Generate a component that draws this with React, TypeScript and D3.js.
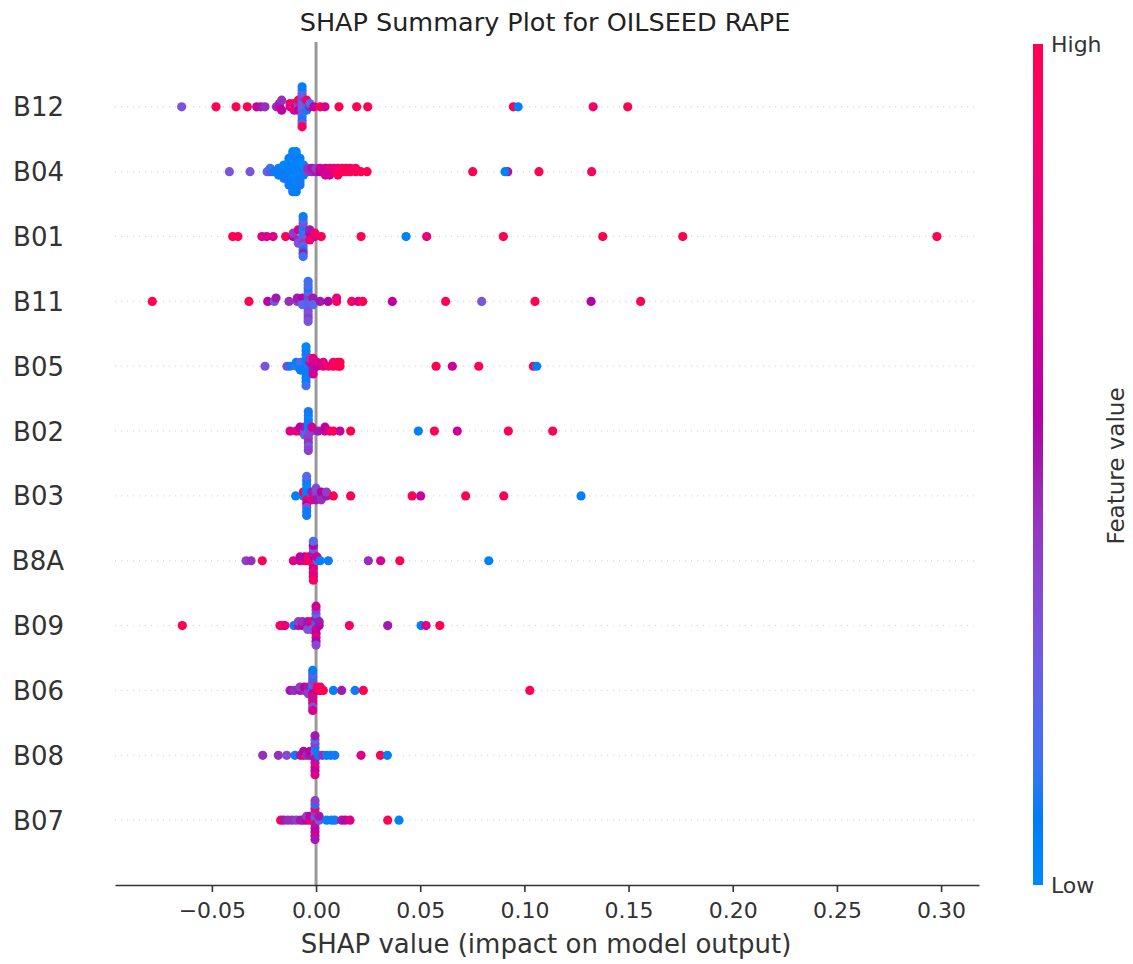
import * as d3 from "d3";
import { useEffect, useRef } from "react";

// feature order top -> bottom
const features = ["B12", "B04", "B01", "B11", "B05", "B02", "B03", "B8A", "B09", "B06", "B08", "B07"];

// each entry: [shap value, feature value of every point sitting at that shap value...]
const b12 = [
  [-0.0645, 0.3], [-0.048, 1], [-0.0384, 1], [-0.033, 1], [-0.0285, 0.65], [-0.0265, 0.5], [-0.0245, 0.45],
  [-0.019, 0.45], [-0.0175, 0.7, 0.5], [-0.0165, 0.6, 0.45], [-0.0125, 0.75, 0.85], [-0.0105, 0.3, 0.9, 0.8],
  [-0.0085, 0.25, 0.35, 0.6, 0.9],
  [-0.0067, 0.3, 0.3, 0.25, 0.2, 0.35, 0.4, 0.15, 0.3, 0.1, 0.2, 0.3, 0.05, 0.95],
  [-0.0045, 0.2, 0.35, 0.1, 0.9], [-0.003, 0.5, 0.2], [-0.001, 0.6], [0.002, 1], [0.0043, 0.7], [0.011, 1],
  [0.0195, 1], [0.0248, 1], [0.0947, 0.95], [0.097, 0.05], [0.133, 0.9], [0.1496, 1],
];
const b04 = [
  [-0.0416, 0.3], [-0.0317, 0.3], [-0.0235, 0.2], [-0.022, 0.35, 0.15], [-0.0205, 0.1], [-0.018, 0.05, 0.1, 0.05],
  [-0.0155, 0.05, 0.1, 0.05, 0, 0.1],
  [-0.013, 0.05, 0, 0.1, 0.05, 0.05, 0, 0.1, 0.05, 0.1],
  [-0.0112, 0, 0.05, 0.05, 0.1, 0, 0.05, 0.1, 0, 0.05, 0.1, 0.05, 0, 0.1],
  [-0.0095, 0.05, 0, 0.1, 0.05, 0, 0.05, 0.1, 0.05, 0, 0.1, 0.05, 0, 0.05],
  [-0.0077, 0.1, 0.05, 0, 0.1, 0.05, 0, 0.1, 0.05, 0.1],
  [-0.006, 0.05, 0.1, 0.05, 0], [-0.004, 0.4, 0.45], [-0.002, 0.45, 0.5], [0, 0.5, 0.4], [0.002, 0.55, 0.7],
  [0.0045, 0.7, 0.65, 0.75], [0.0065, 0.7, 0.8, 0.65], [0.0085, 0.75, 0.85], [0.0105, 0.9, 0.85, 1],
  [0.0125, 1, 0.9], [0.0145, 0.95, 1], [0.0165, 1, 0.9], [0.019, 1, 0.95], [0.0215, 1], [0.0245, 1],
  [0.0752, 1], [0.092, 0.7], [0.0907, 0.05], [0.107, 1], [0.1323, 0.95],
];
const b01 = [
  [-0.04, 1], [-0.0375, 1], [-0.026, 0.75], [-0.0237, 0.7], [-0.0206, 0.75], [-0.0146, 1], [-0.011, 0.6, 0.4],
  [-0.0085, 0.45, 0.7, 0.3],
  [-0.0062, 0.2, 0.1, 0.3, 0.15, 0.4, 0.05, 0.25, 0.35, 0.1, 0.2, 0.5, 0.1, 0.15],
  [-0.003, 0.3, 0.6, 0.9, 0.5], [-0.0005, 0.75, 0.9], [0.0025, 1], [0.0216, 1], [0.0432, 0.05], [0.0531, 0.8],
  [0.0899, 1], [0.1376, 1], [0.176, 1], [0.298, 1],
];
const b11 = [
  [-0.0786, 1], [-0.0322, 1], [-0.0232, 0.6], [-0.02, 0.25], [-0.0192, 0.5], [-0.013, 0.45], [-0.009, 0.4, 0.5],
  [-0.0065, 0.3, 0.55, 0.2],
  [-0.0038, 0.2, 0.1, 0.3, 0.4, 0.15, 0.25, 0.35, 0.1, 0.3, 0.2, 0.4, 0.15, 0.3],
  [-0.0015, 0.3, 0.5, 0.2], [0.002, 0.5], [0.0058, 0.55], [0.0099, 1, 0.8], [0.0171, 0.9], [0.0202, 0.75],
  [0.0224, 1], [0.0366, 0.6], [0.0622, 1], [0.0795, 0.3], [0.1051, 1], [0.132, 0.55], [0.1558, 1],
];
const b05 = [
  [-0.0245, 0.3], [-0.014, 0.35], [-0.0125, 0.1], [-0.0095, 0.15, 0.05], [-0.0075, 0.1, 0.2, 0.05],
  [-0.0048, 0.05, 0, 0.1, 0.05, 0.1, 0, 0.05, 0.1, 0.05, 0, 0.15],
  [-0.003, 0.3, 0.5, 0.1, 0.4], [-0.0014, 0.6, 0.75, 0.5, 0.8, 0.7], [0.0005, 0.6, 0.7], [0.0035, 0.75, 0.8],
  [0.006, 0.85], [0.0083, 1, 0.9], [0.0105, 1, 0.95], [0.0115, 1, 1], [0.0576, 1], [0.0654, 0.65],
  [0.0781, 1], [0.1043, 1], [0.1059, 0.05],
];
const b02 = [
  [-0.0125, 0.75], [-0.0095, 0.8], [-0.0077, 0.8, 0.6], [-0.0055, 0.3, 0.5, 0.2],
  [-0.0037, 0.2, 0.05, 0.35, 0.05, 0.4, 0.1, 0.45, 0, 0.3, 0.1, 0.4],
  [-0.002, 0.4, 0.7], [0.001, 0.5], [0.0043, 0.7, 0.6], [0.0065, 0.8], [0.0083, 1], [0.0115, 0.65],
  [0.0166, 1], [0.0491, 0.05], [0.0568, 1], [0.0678, 0.65], [0.0923, 1], [0.1136, 1],
];
const b03 = [
  [-0.0098, 0.05], [-0.0061, 0.05, 0.9],
  [-0.0045, 0.1, 0.05, 0.9, 0.05, 0.6, 0, 0.3, 0.1, 0.05, 0.2, 0.1],
  [-0.002, 0.3, 0.5, 0.85], [0, 0.45, 0.4, 0.5, 0.35], [0.0025, 0.4, 0.55, 0.45], [0.005, 0.5, 0.4],
  [0.0083, 1], [0.0166, 1], [0.0461, 1], [0.0502, 0.65], [0.0718, 1], [0.0901, 1], [0.1272, 0.05],
];
const b8a = [
  [-0.0336, 0.4], [-0.0312, 0.45], [-0.0258, 1], [-0.0109, 0.75], [-0.0077, 0.7, 0.6], [-0.0055, 0.8, 0.55],
  [-0.0037, 1, 0.9],
  [-0.0013, 0.8, 0.6, 0.9, 0.5, 0.7, 0.3, 0.85, 0.6, 0.75, 0.2, 0.95],
  [0.0005, 0.2, 0.7], [0.002, 0.05], [0.0059, 0.1], [0.0251, 0.45], [0.031, 0.7], [0.0402, 1], [0.0829, 0.05],
];
const b09 = [
  [-0.0642, 1], [-0.0173, 0.95], [-0.016, 0.9], [-0.0149, 0.8], [-0.0106, 0.1], [-0.0085, 0.5, 0.4],
  [-0.0065, 0.6, 0.45], [-0.004, 0.7, 0.5, 0.3], [-0.002, 0.6, 0.8, 0.3],
  [0, 0.3, 0.1, 0.7, 0.5, 0.6, 0.2, 0.8, 0.4, 0.55, 0.7, 0.35],
  [0.0015, 0.6, 0.5], [0.016, 0.9], [0.0344, 0.5], [0.0504, 0.05], [0.0528, 0.75], [0.0594, 1],
];
const b06 = [
  [-0.0125, 0.5], [-0.0105, 0.45], [-0.0077, 0.5, 0.4], [-0.0055, 0.45, 0.6], [-0.0037, 0.35, 0.5, 0.4],
  [-0.0016, 0.2, 0.1, 0.6, 0.3, 0.9, 0.4, 0.5, 0.1, 0.8, 0.3, 0.3, 0.05, 0.7],
  [0.0005, 0.6, 0.9], [0.002, 1, 0.9], [0.0035, 1], [0.0083, 0.05], [0.0123, 0.5], [0.0187, 0.1],
  [0.0227, 1], [0.1026, 1],
];
const b08 = [
  [-0.0256, 0.45], [-0.0181, 0.45], [-0.0141, 0.35], [-0.0101, 0.1], [-0.0075, 0.5], [-0.006, 0.9, 0.55],
  [-0.0045, 0.45], [-0.003, 0.5, 0.6],
  [-0.0005, 0.1, 0.3, 0.7, 0.05, 0.5, 0.4, 0.8, 0.2, 0.6, 0.5, 0.75],
  [0.0011, 0.05], [0.003, 0.45], [0.005, 0.1], [0.007, 0.05], [0.009, 0.1], [0.0216, 0.75], [0.0309, 1],
  [0.0342, 0.05],
];
const b07 = [
  [-0.017, 1], [-0.0155, 0.5], [-0.0135, 0.45], [-0.0115, 0.45], [-0.0095, 0.4], [-0.0075, 0.5],
  [-0.0061, 0.5], [-0.0045, 0.6, 0.4], [-0.0029, 0.8, 0.6],
  [-0.0005, 0.05, 0.3, 0.9, 0.4, 0.5, 0.95, 0.6, 0.1, 0.7, 0.4, 0.5],
  [0.0015, 0.3, 0.5], [0.0051, 0.05], [0.0075, 0.05], [0.0091, 0.1], [0.0123, 0.5], [0.014, 0.6],
  [0.0163, 0.75], [0.0344, 1], [0.0398, 0.05],
];
const rows = [b12, b04, b01, b11, b05, b02, b03, b8a, b09, b06, b08, b07];

const xTicks = [-0.05, 0, 0.05, 0.1, 0.15, 0.2, 0.25, 0.3];

const FONT = "'DejaVu Sans', sans-serif";
const TEXT = "#333333";

// shap's red_blue map: LCh path from blue to red with a darker middle
function redBlue(t: number) {
  const l = t < 0.5 ? 54 + (40 - 54) * (t / 0.5) : 40 + (54 - 40) * ((t - 0.5) / 0.5);
  const c = 70 + 20 * t;
  const h = 266.93 + (380.32 - 266.93) * t;
  return d3.lch(l, c, h % 360).formatRgb();
}

// shap style beeswarm: quantize into 100 bins, stack alternately up / down
function beeswarm(entries: number[][]) {
  const pts: { v: number; c: number }[] = [];
  entries.forEach((e) => {
    for (let k = 1; k < e.length; k++) pts.push({ v: e[0], c: e[k] });
  });
  const mn = d3.min(pts, (p) => p.v) as number;
  const mx = d3.max(pts, (p) => p.v) as number;
  const quant = pts.map((p) => Math.round((100 * (p.v - mn)) / (mx - mn + 1e-8)));
  const order = d3.range(pts.length).sort((a, b) => quant[a] - quant[b] || a - b);
  const ys = new Array(pts.length).fill(0);
  let layer = 0;
  let last = -1;
  order.forEach((i) => {
    if (quant[i] !== last) layer = 0;
    ys[i] = Math.ceil(layer / 2) * ((layer % 2) * 2 - 1);
    layer += 1;
    last = quant[i];
  });
  const k = (0.9 * 0.4) / (d3.max(ys, (y) => y + 1) as number);
  return pts.map((p, i) => ({ ...p, dy: ys[i] * k }));
}

const App = () => {
  const ref = useRef<SVGSVGElement>(null);

  useEffect(() => {
    const svg = d3.select(ref.current);
    svg.selectAll("*").remove();

    const left = 115;
    const right = 979;
    const top = 42;
    const bottom = 885;

    const x = d3.scaleLinear().domain([-0.0965, 0.3182]).range([left, right]);
    const y = d3.scaleLinear().domain([-1, features.length]).range([bottom, top]);

    // title
    svg
      .append("text")
      .attr("x", 545)
      .attr("y", 31)
      .attr("text-anchor", "middle")
      .style("font-family", FONT)
      .style("font-size", "25.5px")
      .attr("fill", "#222")
      .text("SHAP Summary Plot for OILSEED RAPE");

    // zero line
    svg
      .append("line")
      .attr("x1", x(0))
      .attr("x2", x(0))
      .attr("y1", top)
      .attr("y2", bottom)
      .attr("stroke", "#999999")
      .attr("stroke-width", 3);

    features.forEach((f, i) => {
      const pos = features.length - 1 - i;
      svg
        .append("line")
        .attr("x1", left)
        .attr("x2", right)
        .attr("y1", y(pos))
        .attr("y2", y(pos))
        .attr("stroke", "#cccccc")
        .attr("stroke-width", 1)
        .attr("stroke-dasharray", "1 5");

      svg
        .append("text")
        .attr("x", 64)
        .attr("y", y(pos) + 9.5)
        .attr("text-anchor", "end")
        .style("font-family", FONT)
        .style("font-size", "26px")
        .attr("fill", TEXT)
        .text(f);

      svg
        .append("g")
        .selectAll("circle")
        .data(beeswarm(rows[i]))
        .enter()
        .append("circle")
        .attr("cx", (d) => x(d.v))
        .attr("cy", (d) => y(pos + d.dy))
        .attr("r", 4.6)
        .attr("fill", (d) => redBlue(d.c));
    });

    // x axis
    const ax = svg
      .append("g")
      .attr("transform", `translate(0,${bottom})`)
      .call(
        d3
          .axisBottom(x)
          .tickValues(xTicks)
          .tickSize(7)
          .tickSizeOuter(0)
          .tickPadding(10)
          .tickFormat(d3.format(".2f"))
      );
    ax.select(".domain").attr("stroke", TEXT).attr("stroke-width", 1.6);
    ax.selectAll(".tick line").attr("stroke", TEXT).attr("stroke-width", 1.6);
    ax.selectAll(".tick text")
      .attr("fill", TEXT)
      .style("font-family", FONT)
      .style("font-size", "22px");

    svg
      .append("text")
      .attr("x", 546)
      .attr("y", 953)
      .attr("text-anchor", "middle")
      .style("font-family", FONT)
      .style("font-size", "26px")
      .attr("fill", TEXT)
      .text("SHAP value (impact on model output)");

    // colour bar
    const grad = svg
      .append("defs")
      .append("linearGradient")
      .attr("id", "cbar")
      .attr("x1", 0)
      .attr("y1", 1)
      .attr("x2", 0)
      .attr("y2", 0);
    d3.range(0, 1.0001, 0.02).forEach((t) => {
      grad.append("stop").attr("offset", t).attr("stop-color", redBlue(t));
    });
    svg
      .append("rect")
      .attr("x", 1033)
      .attr("y", 44)
      .attr("width", 10)
      .attr("height", bottom - 44)
      .attr("fill", "url(#cbar)");
    svg
      .append("text")
      .attr("x", 1051)
      .attr("y", 52)
      .style("font-family", FONT)
      .style("font-size", "22px")
      .attr("fill", TEXT)
      .text("High");
    svg
      .append("text")
      .attr("x", 1051)
      .attr("y", 893)
      .style("font-family", FONT)
      .style("font-size", "22px")
      .attr("fill", TEXT)
      .text("Low");
    svg
      .append("text")
      .attr("transform", "translate(1124,466) rotate(-90)")
      .attr("text-anchor", "middle")
      .style("font-family", FONT)
      .style("font-size", "23px")
      .attr("fill", TEXT)
      .text("Feature value");
  }, []);

  return (
    <svg
      ref={ref}
      width={1133}
      height={964}
      style={{ position: "absolute", left: 0, top: 0, background: "#fff" }}
    />
  );
};

export default App;
